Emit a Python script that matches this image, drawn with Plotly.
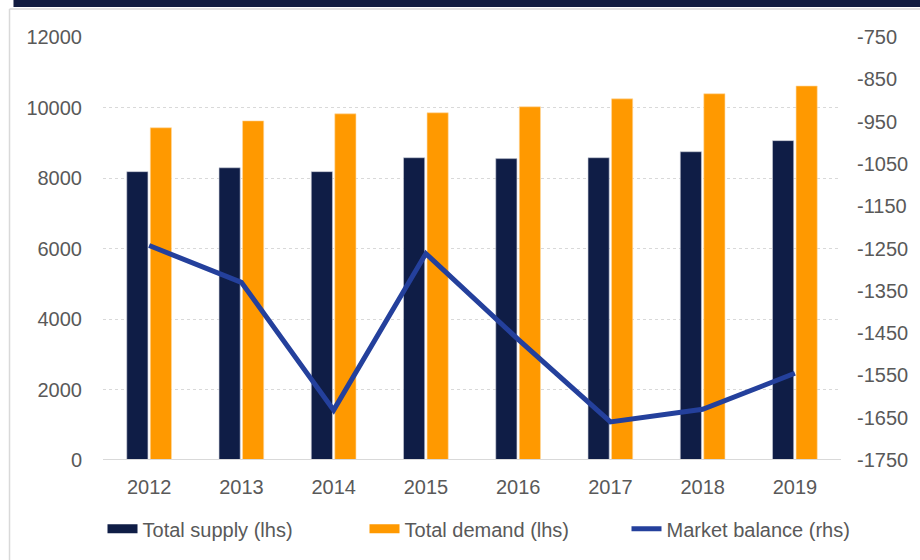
import plotly.graph_objects as go

years = ["2012", "2013", "2014", "2015", "2016", "2017", "2018", "2019"]
total_supply = [8180, 8290, 8180, 8575, 8550, 8575, 8745, 9060]
total_demand = [9425, 9620, 9820, 9850, 10020, 10245, 10390, 10610]
market_balance = [-1243, -1330, -1632, -1262, -1465, -1660, -1630, -1545]

left_ticks = [0, 2000, 4000, 6000, 8000, 10000, 12000]
left_tick_text = [str(v) for v in left_ticks]
right_ticks = [-1750, -1650, -1550, -1450, -1350, -1250, -1150, -1050, -950, -850, -750]
right_tick_text = [str(v) for v in right_ticks]

NAVY = "#0f1d46"
ORANGE = "#ff9900"
BLUE = "#24409c"
TXT = "#595959"
FONT = "Liberation Sans, Arial, sans-serif"

fig = go.Figure()
fig.add_trace(go.Bar(x=years, y=total_supply, name="Total supply (lhs)", showlegend=False,
                     marker=dict(color=NAVY, line=dict(color="#c9ccd6", width=0.6))))
fig.add_trace(go.Bar(x=years, y=total_demand, name="Total demand (lhs)", showlegend=False,
                     marker=dict(color=ORANGE, line=dict(color="#ffd9a0", width=0.6))))
fig.add_trace(go.Scatter(x=years, y=market_balance, name="Market balance (rhs)", showlegend=False,
                         mode="lines", line=dict(color=BLUE, width=5), yaxis="y2"))
# legend keys
fig.add_trace(go.Scatter(x=[None], y=[None], name="Total supply (lhs)", mode="lines",
                         line=dict(color=NAVY, width=9)))
fig.add_trace(go.Scatter(x=[None], y=[None], name="Total demand (lhs)", mode="lines",
                         line=dict(color=ORANGE, width=9)))
fig.add_trace(go.Scatter(x=[None], y=[None], name="Market balance (rhs)", mode="lines",
                         line=dict(color=BLUE, width=5)))

L, R, T, B = 103, 845, 37, 461
W, H = 920, 560
def px(x):
    return (x - L) / (R - L)
def py(y):
    return (B - y) / (B - T)

fig.update_layout(
    width=W, height=H,
    margin=dict(l=L, r=W - R, t=T, b=H - B),
    paper_bgcolor="white", plot_bgcolor="white",
    font=dict(family=FONT, size=20, color=TXT),
    barmode="group", bargap=0.49, bargroupgap=0.1,
    showlegend=True,
    legend=dict(orientation="h", x=px(102.5), xanchor="left", y=py(530), yanchor="middle",
                font=dict(size=20, color=TXT), itemwidth=30, traceorder="normal",
                entrywidth=217, entrywidthmode="pixels",
                bgcolor="rgba(0,0,0,0)"),
    xaxis=dict(type="category", showgrid=False, zeroline=False, showline=False,
               ticks="", tickfont=dict(size=20, color=TXT), ticklabelstandoff=13),
    yaxis=dict(range=[0, 12000], tickvals=left_ticks, ticktext=left_tick_text, showgrid=True,
               gridcolor="#d9d9d9", griddash="dot", gridwidth=1,
               zeroline=False, showline=False, ticks="",
               tickfont=dict(size=20, color=TXT), ticklabelstandoff=20),
    yaxis2=dict(range=[-1750, -750], tickvals=right_ticks, ticktext=right_tick_text,
                overlaying="y", side="right", showgrid=False, zeroline=False,
                showline=False, ticks="", tickfont=dict(size=20, color=TXT),
                ticklabelstandoff=15),
    shapes=[
        dict(type="rect", xref="paper", yref="paper", x0=px(13), x1=px(925),
             y0=py(7), y1=py(-5), fillcolor="#111b40", line=dict(width=0), layer="above"),
        dict(type="line", xref="paper", yref="paper", x0=px(9), x1=px(925),
             y0=py(9), y1=py(9), line=dict(color="#d9d9d9", width=1.5)),
        dict(type="line", xref="paper", yref="paper", x0=px(9), x1=px(9),
             y0=py(9), y1=py(565), line=dict(color="#d9d9d9", width=1.5)),
        dict(type="line", xref="paper", yref="y", x0=0, x1=1, y0=0, y1=0,
             line=dict(color="#d9d9d9", width=2), layer="above"),
    ],
)

fig.write_html("out.html", config={"displayModeBar": False},
               post_script="document.body.style.margin='0px';document.body.style.overflow='hidden';")
